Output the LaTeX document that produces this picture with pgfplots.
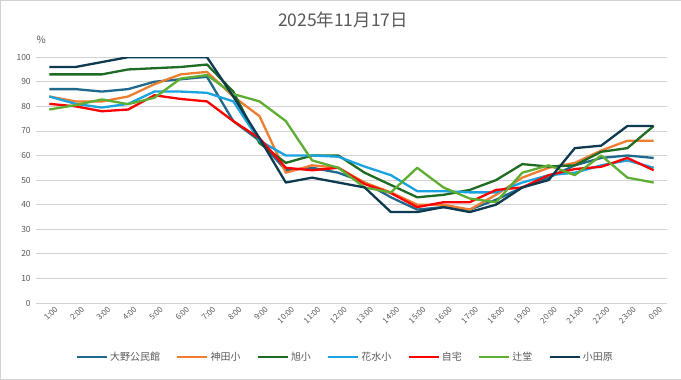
\documentclass[border=0pt]{standalone}
\usepackage{fontspec}
\setmainfont{Noto Sans CJK JP}
\usepackage{pgfplots}
\pgfplotsset{compat=1.18}
\definecolor{ono}{HTML}{1F6A8C}
\definecolor{kanda}{HTML}{ED7D31}
\definecolor{asahi}{HTML}{1E6B24}
\definecolor{hanami}{HTML}{1AA3DE}
\definecolor{jitaku}{HTML}{FF0000}
\definecolor{tsuji}{HTML}{5DAE32}
\definecolor{odawara}{HTML}{0E3A50}
\definecolor{txt}{HTML}{595959}
\begin{document}
\begin{tikzpicture}[x=1bp,y=1bp]
\draw[fill=white, draw=gray!35] (0,0) rectangle (681,379);
\begin{axis}[
  at={(36bp,76bp)}, anchor=south west,
  scale only axis, width=631bp, height=246bp,
  xmin=-0.5, xmax=23.5, ymin=0, ymax=100,
  ytick={0,10,...,100},
  xtick={0,...,23},
  xticklabels={1:00,2:00,3:00,4:00,5:00,6:00,7:00,8:00,9:00,10:00,11:00,12:00,13:00,14:00,15:00,16:00,17:00,18:00,19:00,20:00,21:00,22:00,23:00,0:00},
  /pgf/number format/assume math mode=true,
  axis line style={draw=none},
  major tick length=0pt,
  ymajorgrids,
  grid style={draw=gray!35, line width=0.7bp},
  tick label style={text=txt, font=\fontsize{8.5}{10}\selectfont},
  xticklabel style={rotate=45, anchor=north east, xshift=5bp, yshift=-2bp, font=\fontsize{8}{9}\selectfont},
  yticklabel style={xshift=-2bp},
  legend columns=7,
  legend style={at={(0.49,-0.22)}, anchor=center, draw=none, fill=none,
    font=\fontsize{10}{12}\selectfont, text=txt,
    /tikz/every even column/.append style={column sep=14bp}},
  legend image code/.code={\draw[#1, line width=2.6bp] (0bp,0bp) -- (30bp,0bp);},
  every axis plot/.append style={line width=2.3bp, mark=none, line join=round},
]
\addplot[ono] coordinates {(0,87)(1,87)(2,86)(3,87)(4,90)(5,91)(6,92)(7,74)(8,66)(9,54)(10,55)(11,53)(12,49)(13,43)(14,38)(15,39)(16,38)(17,42)(18,47)(19,51)(20,56)(21,59)(22,60)(23,59)};
\addlegendentry{大野公民館}
\addplot[kanda] coordinates {(0,84)(1,82)(2,82)(3,84)(4,89)(5,93)(6,94)(7,84)(8,76)(9,53)(10,56)(11,55)(12,49)(13,45)(14,40)(15,40)(16,38)(17,44)(18,51)(19,55)(20,57)(21,62)(22,66)(23,66)};
\addlegendentry{神田小}
\addplot[asahi] coordinates {(0,93)(1,93)(2,93)(3,95)(4,95.5)(5,96)(6,97)(7,86)(8,65)(9,57)(10,60)(11,60)(12,53)(13,48)(14,43)(15,44)(16,46)(17,50)(18,56.5)(19,55.5)(20,56)(21,61.5)(22,63)(23,72)};
\addlegendentry{旭小}
\addplot[hanami] coordinates {(0,84)(1,81)(2,79.5)(3,81)(4,86)(5,86)(6,85.5)(7,82)(8,66)(9,60)(10,60)(11,59.5)(12,55.5)(13,52)(14,45.5)(15,45.5)(16,45)(17,45)(18,49)(19,52)(20,53)(21,56)(22,58)(23,55)};
\addlegendentry{花水小}
\addplot[jitaku] coordinates {(0,81)(1,80)(2,78)(3,78.7)(4,84.5)(5,83)(6,82)(7,74)(8,67)(9,55)(10,54)(11,55)(12,48.4)(13,44.7)(14,39)(15,41)(16,41)(17,46)(18,47)(19,52)(20,54.5)(21,55.4)(22,59)(23,54)};
\addlegendentry{自宅}
\addplot[tsuji] coordinates {(0,78.7)(1,80.5)(2,82.8)(3,80.9)(4,83.5)(5,91.3)(6,92.7)(7,85)(8,82)(9,74)(10,58)(11,55)(12,47)(13,45)(14,55)(15,47)(16,42.5)(17,41)(18,53)(19,56)(20,52)(21,60)(22,51)(23,49)};
\addlegendentry{辻堂}
\addplot[odawara] coordinates {(0,96)(1,96)(2,98)(3,100)(4,100)(5,100)(6,100)(7,84)(8,67)(9,49)(10,51)(11,49)(12,47)(13,37)(14,37)(15,39)(16,37)(17,40)(18,47)(19,50)(20,63)(21,64)(22,72)(23,72)};
\addlegendentry{小田原}
\end{axis}
\node[text=txt, font=\fontsize{17.5}{20}\selectfont] at (343,359) {2025年11月17日};
\node[text=txt, font=\fontsize{10}{12}\selectfont] at (41,339) {\%};
\end{tikzpicture}
\end{document}
